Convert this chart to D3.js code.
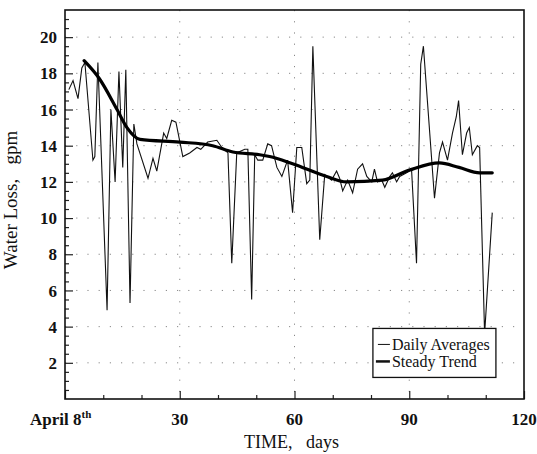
<!DOCTYPE html>
<html>
<head>
<meta charset="utf-8">
<script src="https://cdn.jsdelivr.net/npm/d3@7"></script>
<style>
  html, body { margin: 0; padding: 0; background: #fff; }
  svg { display: block; font-family: "Liberation Serif", "DejaVu Serif", serif; }
</style>
</head>
<body>
<svg id="chart"></svg>
<script>
const WIDTH = 537;
const HEIGHT = 454;

// daily averages (day after April 8th, gpm)
const dailyDays = [1.0, 2.1, 3.4, 4.4, 5.2, 7.3, 7.8, 8.6, 11.0, 12.0, 13.1, 14.1, 15.1, 15.9, 17.0, 18.0, 18.8,
    21.7, 23.0, 24.0, 25.8, 26.6, 27.9, 29.0, 30.8, 32.6, 34.5, 35.5, 37.3, 39.7, 41.0, 42.6, 43.6, 44.9,
    47.0, 47.8, 48.8, 49.6, 50.4, 51.7, 53.0, 54.0, 55.4, 56.7, 58.2, 59.5, 60.6, 61.9, 63.2, 64.0, 64.8,
    66.6, 67.9, 69.7, 71.0, 71.8, 72.6, 73.9, 75.2, 76.5, 77.8, 78.9, 80.2, 80.9, 81.7, 82.8, 83.6, 84.9,
    85.6, 86.7, 87.5, 89.3, 90.6, 91.9, 93.0, 93.7, 96.6, 97.9, 98.7, 100.0, 101.3, 102.3, 102.9, 103.9,
    105.0, 105.7, 106.5, 107.8, 108.4, 109.7, 111.7];
const dailyValues = [17.1, 17.6, 16.6, 18.3, 18.6, 13.2, 13.4, 18.6, 4.9, 16.0, 12.0, 18.1, 12.8, 18.2, 5.3, 15.2, 14.1,
    12.2, 13.3, 12.6, 14.7, 14.4, 15.4, 15.3, 13.4, 13.6, 13.9, 13.8, 14.2, 14.3, 13.9, 13.6, 7.5, 13.6,
    13.8, 13.8, 5.5, 13.5, 13.2, 13.2, 14.1, 14.0, 12.8, 12.3, 13.2, 10.3, 13.9, 13.9, 11.9, 12.1, 19.5,
    8.8, 12.4, 12.1, 12.6, 12.2, 11.5, 12.1, 11.4, 12.7, 13.0, 12.3, 12.0, 12.7, 12.0, 12.1, 11.7, 12.3,
    12.5, 12.0, 12.3, 12.5, 12.7, 7.5, 18.5, 19.5, 11.1, 13.6, 14.2, 13.2, 14.7, 15.6, 16.5, 13.5,
    14.7, 15.0, 13.5, 14.0, 13.9, 3.6, 10.3];

// steady trend
const trendDays = [5, 9, 13.6, 16.2, 19.6, 30, 38.6, 43.9, 50.9, 53.5, 59.5, 68.4, 73.6, 83, 90, 97.9, 103, 108.4, 111.7];
const trendValues = [18.7, 17.7, 16.0, 15.0, 14.35, 14.2, 14.0, 13.65, 13.5, 13.4, 13.0, 12.3, 12.0, 12.1, 12.65, 13.05, 12.8, 12.5, 12.5];

const xMajorTicks = [0, 30, 60, 90, 120];
const xMinorTicks = [10, 20, 40, 50, 70, 80, 100, 110];
const yMajorTicks = [2, 4, 6, 8, 10, 12, 14, 16, 18, 20];
const yMinorTicks = d3.range(0.5, 21.5, 0.5).filter((v) => v % 2 !== 0);
const legendLabels = ["Daily Averages", "Steady Trend"];

const margin = { top: 10, right: 13, bottom: 55, left: 65 };
const innerW = WIDTH - margin.left - margin.right;
const innerH = HEIGHT - margin.top - margin.bottom;

const svg = d3.select("#chart").attr("width", WIDTH).attr("height", HEIGHT);
const g = svg.append("g").attr("transform", `translate(${margin.left},${margin.top})`);

const x = d3.scaleLinear().domain([0, 120]).range([0, innerW]);
const y = d3.scaleLinear().domain([0, 21.5]).range([innerH, 0]);

// dotted grid
const grid = g.append("g").attr("stroke", "#888").attr("stroke-width", 1).attr("stroke-dasharray", "1.2,10");
grid.selectAll("line.h").data(yMajorTicks).join("line")
    .attr("class", "h")
    .attr("x1", 0).attr("x2", innerW)
    .attr("y1", (d) => y(d)).attr("y2", (d) => y(d));
grid.selectAll("line.v").data([30, 60, 90]).join("line")
    .attr("class", "v")
    .attr("y1", 0).attr("y2", innerH)
    .attr("x1", (d) => x(d)).attr("x2", (d) => x(d));

// inward ticks
const xAxis = g.append("g").attr("transform", `translate(0,${innerH})`)
    .call(d3.axisBottom(x).tickValues(xMajorTicks).tickSizeInner(-8).tickSizeOuter(0).tickFormat(""));
const xAxisMinor = g.append("g").attr("transform", `translate(0,${innerH})`)
    .call(d3.axisBottom(x).tickValues(xMinorTicks).tickSizeInner(-4).tickSizeOuter(0).tickFormat(""));
const yAxis = g.append("g")
    .call(d3.axisLeft(y).tickValues(yMajorTicks).tickSizeInner(-8).tickSizeOuter(0).tickFormat(""));
const yAxisMinor = g.append("g")
    .call(d3.axisLeft(y).tickValues(yMinorTicks).tickSizeInner(-4).tickSizeOuter(0).tickFormat(""));
[xAxis, xAxisMinor, yAxis, yAxisMinor].forEach((a) => {
    a.select(".domain").remove();
    a.selectAll(".tick line").attr("stroke", "#222").attr("stroke-width", 1.2);
});

// data lines
const dailyLine = d3.line().x((d) => x(d[0])).y((d) => y(d[1]));
g.append("path")
    .datum(d3.zip(dailyDays, dailyValues))
    .attr("d", dailyLine)
    .attr("fill", "none")
    .attr("stroke", "#111")
    .attr("stroke-width", 1.1)
    .attr("stroke-linejoin", "miter");

const trendLine = d3.line().curve(d3.curveMonotoneX).x((d) => x(d[0])).y((d) => y(d[1]));
g.append("path")
    .datum(d3.zip(trendDays, trendValues))
    .attr("d", trendLine)
    .attr("fill", "none")
    .attr("stroke", "#000")
    .attr("stroke-width", 3.2)
    .attr("stroke-linecap", "round")
    .attr("stroke-linejoin", "round");

// frame
g.append("rect")
    .attr("width", innerW).attr("height", innerH)
    .attr("fill", "none").attr("stroke", "#111").attr("stroke-width", 1.6);

// tick labels
g.append("g").selectAll("text").data(yMajorTicks).join("text")
    .attr("x", -8).attr("y", (d) => y(d)).attr("dy", "0.36em")
    .attr("text-anchor", "end")
    .attr("font-size", 17).attr("font-weight", 700).attr("fill", "#111")
    .text((d) => d);

g.append("g").selectAll("text").data(xMajorTicks.filter((d) => d > 0)).join("text")
    .attr("x", (d) => x(d)).attr("y", innerH + 26)
    .attr("text-anchor", "middle")
    .attr("font-size", 17).attr("font-weight", 700).attr("fill", "#111")
    .text((d) => d);

const startLabel = g.append("text")
    .attr("x", x(0) - 35).attr("y", innerH + 26)
    .attr("font-size", 17).attr("font-weight", 700).attr("fill", "#111");
startLabel.append("tspan").text("April 8");
startLabel.append("tspan").attr("dy", -7).attr("font-size", 11).text("th");

// axis titles
g.append("text")
    .attr("x", innerW / 2 - 3).attr("y", innerH + 49)
    .attr("text-anchor", "middle")
    .attr("font-size", 18).attr("fill", "#111")
    .attr("xml:space", "preserve")
    .text("TIME,   days");

g.append("text")
    .attr("transform", `translate(${-48},${y(11)}) rotate(-90)`)
    .attr("text-anchor", "middle")
    .attr("font-size", 19).attr("fill", "#111")
    .attr("xml:space", "preserve")
    .text("Water Loss,   gpm");

// legend
const legend = g.append("g").attr("transform", `translate(${x(80.5)},${y(3.9)})`);
legend.append("rect")
    .attr("width", 123).attr("height", 49)
    .attr("fill", "#fff").attr("stroke", "#111").attr("stroke-width", 1.3);
const legendRows = legend.selectAll("g.row").data(legendLabels).join("g")
    .attr("class", "row")
    .attr("transform", (d, i) => `translate(0,${16 + i * 17})`);
legendRows.append("line")
    .attr("x1", (d, i) => i === 0 ? 5 : 3).attr("x2", 17)
    .attr("y1", 0).attr("y2", 0)
    .attr("stroke", "#111")
    .attr("stroke-width", (d, i) => i === 0 ? 1 : 2.5);
legendRows.append("text")
    .attr("x", 19).attr("y", 0).attr("dy", "0.35em")
    .attr("font-size", 16).attr("fill", "#111")
    .text((d) => d);
</script>
</body>
</html>
